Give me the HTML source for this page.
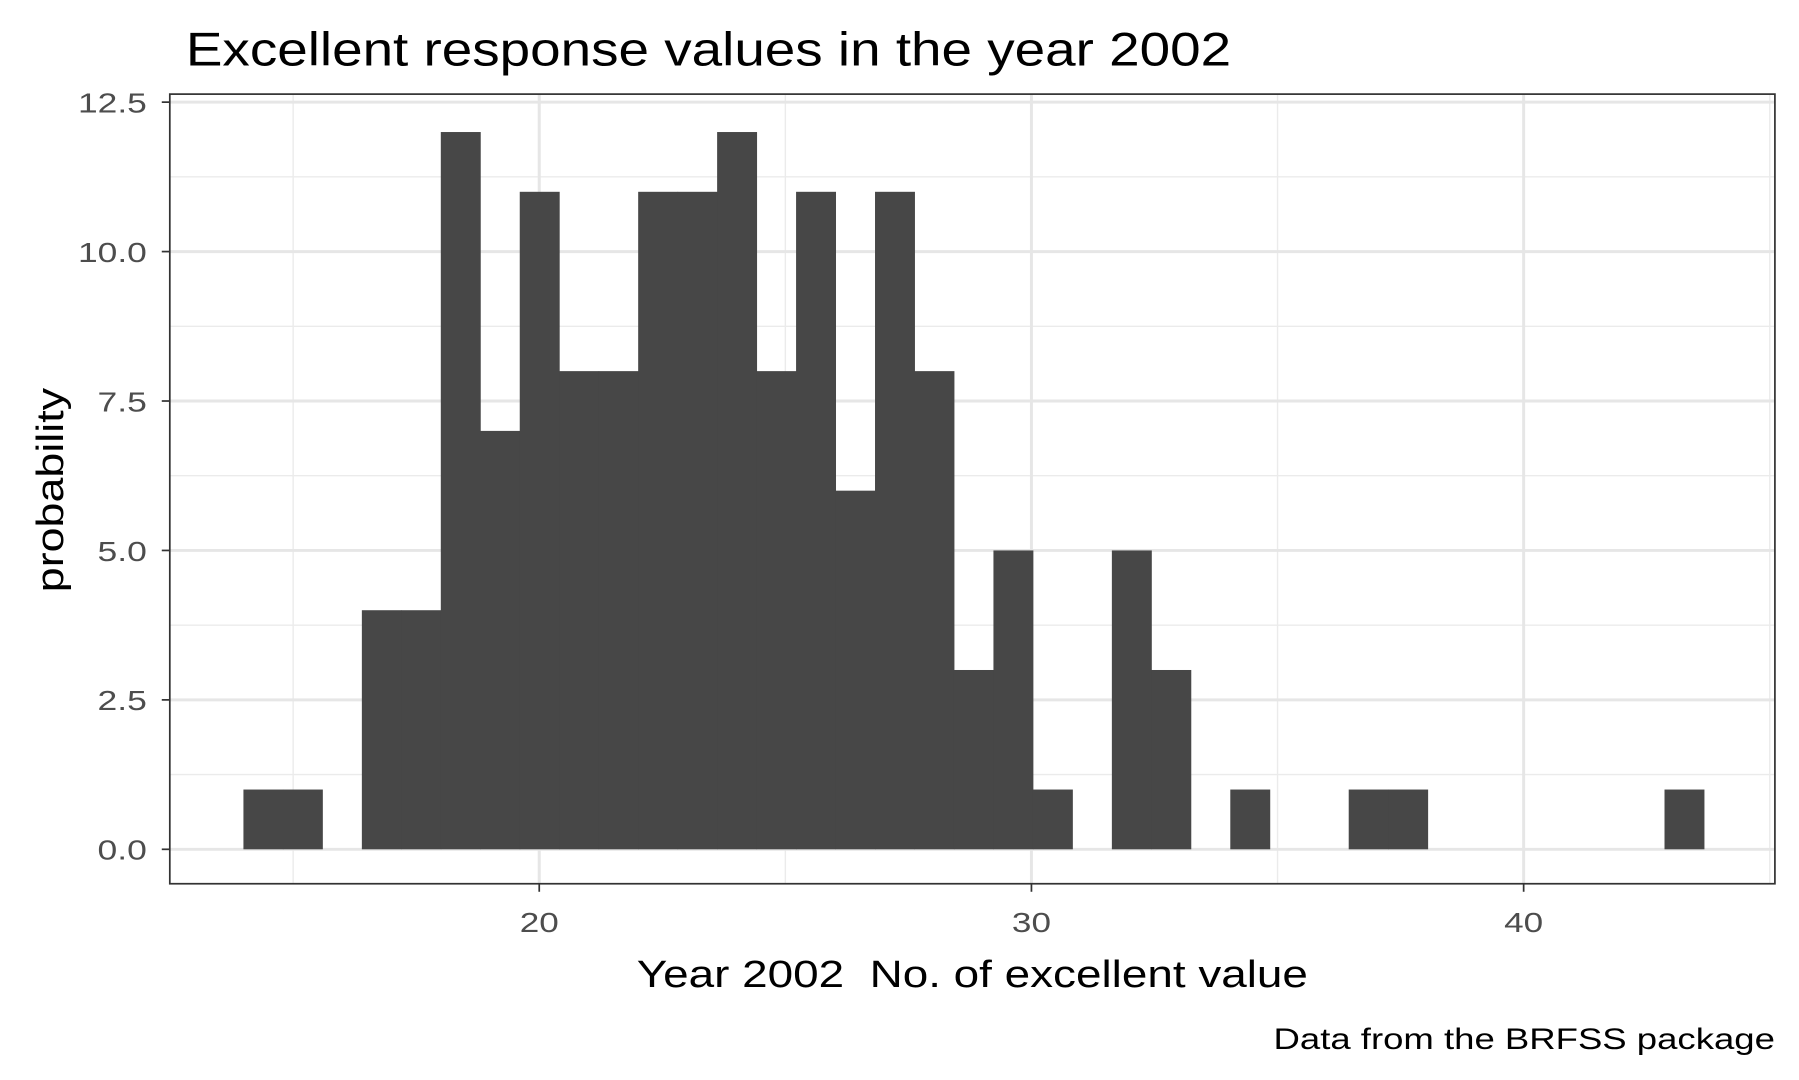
<!DOCTYPE html>
<html><head><meta charset="utf-8"><style>
html,body{margin:0;padding:0;background:#fff;}
svg{display:block;font-family:"Liberation Sans",Arial,sans-serif;}
</style></head><body>
<svg id="chart" width="1799" height="1080" viewBox="0 0 1568 941" preserveAspectRatio="none" xmlns="http://www.w3.org/2000/svg">
<text x="162" y="57" font-size="41" fill="#000" textLength="911" lengthAdjust="spacingAndGlyphs">Excellent response values in the year 2002</text>
<g id="grid"></g>
<g id="bars"></g>
<rect x="148" y="82" width="1399" height="688" fill="none" stroke="#333" stroke-width="1.5"/>
<g id="axes"></g>
<text x="555" y="860" font-size="33" fill="#000" textLength="585" lengthAdjust="spacingAndGlyphs">Year 2002&#160; No. of excellent value</text>
<text transform="translate(55,516) rotate(-90)" font-size="33" fill="#000" textLength="178" lengthAdjust="spacingAndGlyphs">probability</text>
<text x="1110" y="914" font-size="26" fill="#000" textLength="437" lengthAdjust="spacingAndGlyphs">Data from the BRFSS package</text>
</svg>
<script>
const binStart = 13.99;
const binWidth = 0.802;
const counts = [1,1,0,4,4,12,7,11,8,8,11,11,12,8,11,6,11,8,3,5,1,0,5,3,0,1,0,0,1,1,0,0,0,0,0,0,1];
const yTicks = [0, 2.5, 5, 7.5, 10, 12.5];
const yTickLabels = ["0.0","2.5","5.0","7.5","10.0","12.5"];
const yMinor = [1.25, 3.75, 6.25, 8.75, 11.25];
const xTicks = [20, 30, 40];
const xTickLabels = ["20","30","40"];
const xMinor = [15, 25, 35, 45];

const NS = "http://www.w3.org/2000/svg";
const PL = 148, PR = 1547, PT = 82, PB = 770;
function xs(v){ return 470 + (v - 20) * 42.9; }
function ys(v){ return 740 - v * 52.08; }
function labelLen(s){ let w = 0; for (const ch of s) w += (ch === '.') ? 9 : 17; return w; }
function mk(tag, attrs, parent){
  const e = document.createElementNS(NS, tag);
  for (const k in attrs) e.setAttribute(k, attrs[k]);
  parent.appendChild(e);
  return e;
}
const grid = document.getElementById('grid');
const bars = document.getElementById('bars');
const axes = document.getElementById('axes');
mk('rect', {x:PL, y:PT, width:PR-PL, height:PB-PT, fill:'#fff'}, grid);
yMinor.forEach(v => {
  const l = mk('line', {x1:PL, x2:PR, y1:ys(v), y2:ys(v), stroke:'#ebebeb', 'stroke-width':1.2}, grid);
  
  
});
xMinor.forEach(v => {
  if (xs(v) > PR) return;
  const l = mk('line', {x1:xs(v), x2:xs(v), y1:PT, y2:PB, stroke:'#ebebeb', 'stroke-width':1.2}, grid);
  
  
});
yTicks.forEach(v => {
  const l = mk('line', {x1:PL, x2:PR, y1:ys(v), y2:ys(v), stroke:'#e6e6e6', 'stroke-width':2.6}, grid);
  
  
});
xTicks.forEach(v => {
  const l = mk('line', {x1:xs(v), x2:xs(v), y1:PT, y2:PB, stroke:'#e6e6e6', 'stroke-width':2.6}, grid);
  
  
});
counts.forEach((c, i) => {
  if (c <= 0) return;
  const x0 = xs(binStart + i * binWidth), x1 = xs(binStart + (i + 1) * binWidth);
  const r = mk('rect', {x:x0, y:ys(c), width:x1 - x0 + 0.4, height:ys(0) - ys(c), fill:'#474747'}, bars);
  
  
});
yTicks.forEach((v, i) => {
  const t = mk('line', {x1:PL-7, x2:PL, y1:ys(v), y2:ys(v), stroke:'#333', 'stroke-width':1.5}, axes);
  
  
  const s = yTickLabels[i];
  const tx = mk('text', {x:128 - labelLen(s), y:ys(v)+9, 'font-size':24, fill:'#4d4d4d', textLength:labelLen(s), lengthAdjust:'spacingAndGlyphs'}, axes);
  tx.textContent = s;
  
  
});
xTicks.forEach((v, i) => {
  const t = mk('line', {x1:xs(v), x2:xs(v), y1:PB, y2:PB+7, stroke:'#333', 'stroke-width':1.5}, axes);
  
  
  const s = xTickLabels[i];
  const tx = mk('text', {x:xs(v) - labelLen(s)/2, y:PB+42, 'font-size':24, fill:'#4d4d4d', textLength:labelLen(s), lengthAdjust:'spacingAndGlyphs'}, axes);
  tx.textContent = s;
  
  
});
</script>
</body></html>
